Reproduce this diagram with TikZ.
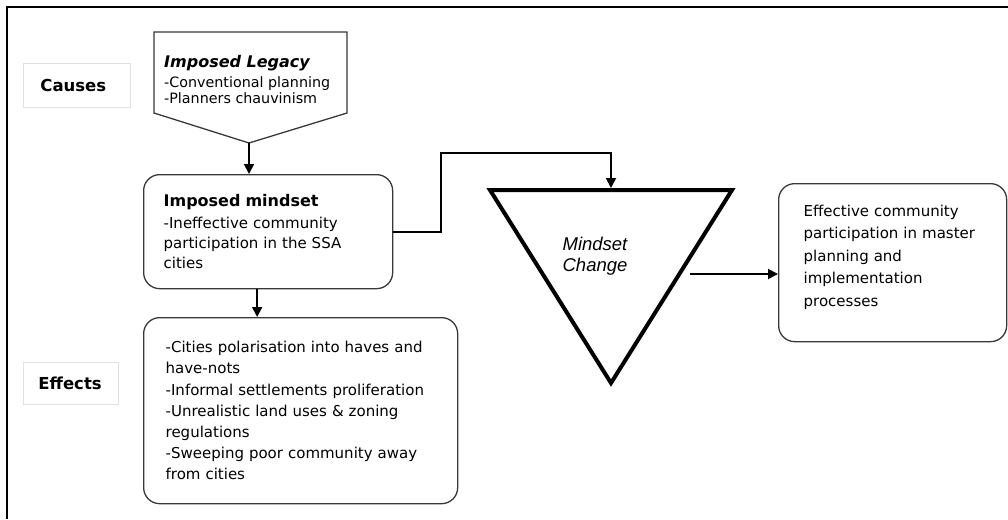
\documentclass[tikz,border=0pt]{standalone}
\usepackage{fontspec}
\setmainfont{DejaVu Sans}
\newfontfamily\mcfont{Liberation Sans}
\usetikzlibrary{arrows.meta}
\begin{document}
\begin{tikzpicture}[x=1pt,y=-1pt,
  box/.style={draw=black!78, line width=1.3pt, rounded corners=16pt, align=left,
    inner ysep=0pt, anchor=north west},
  lab/.style={draw=black!12, line width=0.8pt, font=\bfseries\fontsize{16.5}{18}\selectfont,
    anchor=north west, inner ysep=0pt, align=left},
  conn/.style={line width=1.8pt, -{Triangle[length=10pt,width=10pt]}},
  thin/.style={draw=black!78, line width=1.3pt}
]
\useasboundingbox (0,0) rectangle (1008,519);
\draw[line width=2pt] (1008,7) -- (7,7) -- (7,519);

% side labels
\node[lab, inner xsep=17pt, text width=73pt, minimum height=44pt] (causes) at (23,63) {Causes};
\node[lab, inner xsep=15pt, text width=65pt, minimum height=42pt] (effectslab) at (23,362) {Effects};

% imposed legacy (pentagon)
\coordinate (legtip) at (249,143);
\draw[thin, line join=miter] (154,32) -- (347,32) -- (347,113) -- (legtip) -- (154,113) -- cycle;
\node[anchor=north west, inner sep=0pt, align=left, font=\fontsize{14.3}{16}\selectfont] (legacy) at (164,55)
  {{\fontsize{16}{16}\selectfont\textbf{\textit{Imposed Legacy}}}\\[4pt]-Conventional planning\\-Planners chauvinism};

% imposed mindset
\node[box, inner xsep=20pt, text width=209pt, minimum height=114pt, font=\fontsize{15}{20}\selectfont] (mindset) at (143,174)
  {{\fontsize{16}{16}\selectfont\textbf{Imposed mindset}}\\[2pt]-Ineffective community\\participation in the SSA\\cities};

% effects
\node[box, inner xsep=22pt, text width=270pt, minimum height=186pt, font=\fontsize{15}{21.2}\selectfont] (effects) at (143,317)
  {-Cities polarisation into haves and\\have-nots\\-Informal settlements proliferation\\-Unrealistic land uses \& zoning\\regulations\\-Sweeping poor community away\\from cities};

% effective
\node[box, inner xsep=25pt, text width=178pt, minimum height=158pt, font=\fontsize{15}{22.5}\selectfont] (effective) at (778,183)
  {Effective community\\participation in master\\planning and\\implementation\\processes\\[-8pt]\mbox{}};

% mindset change triangle
\coordinate (tritop) at (611,188);
\coordinate (triright) at (690,274);
\draw[line width=4pt, line join=miter] (490,190) -- (732,190) -- (611,383) -- cycle;
\node[align=center, inner sep=0pt, font=\mcfont\itshape\fontsize{18.5}{21}\selectfont] (change) at (595,256) {Mindset\\Change};

% connectors
\coordinate (bend) at (441,153);
\draw[conn] (legtip) -- (legtip |- mindset.north);
\draw[conn] ([xshift=-11pt]mindset.south) -- ([xshift=-11pt]mindset.south |- effects.north);
\draw[conn] (mindset.east) -| (bend) -| (tritop);
\draw[conn] (triright) -- (triright -| effective.west);
\end{tikzpicture}
\end{document}
